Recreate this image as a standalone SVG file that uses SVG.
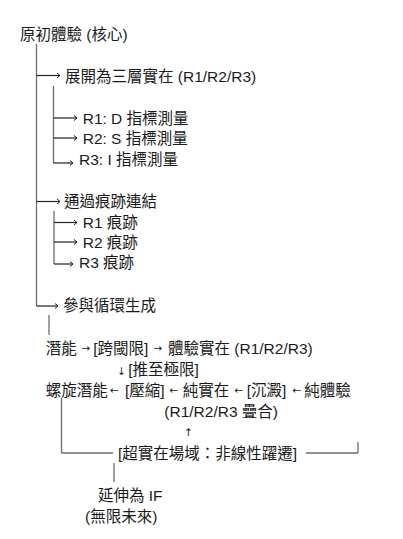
<svg xmlns="http://www.w3.org/2000/svg" width="403" height="539" viewBox="0 0 403 539">
<defs>
<style>
text{font-family:"Liberation Sans","Noto Sans CJK TC",sans-serif;font-size:15.5px;fill:#1a1a1a}
.ar{font-family:"DejaVu Sans",sans-serif;font-size:10.5px}
.v{stroke:#6e6e6e;stroke-width:1.3;fill:none}
.h{stroke:#222;stroke-width:1.2;fill:none}
</style>
<marker id="ah" markerWidth="8" markerHeight="8" refX="6" refY="4" orient="auto" markerUnits="userSpaceOnUse">
<path d="M3,1.5 L6,4 L3,6.5" fill="none" stroke="#222" stroke-width="1"/>
</marker>
</defs>
<rect width="403" height="539" fill="#fff"/>
<g id="connectors">
<path class="v" d="M36.5,44 V306"/>
<path class="h" d="M36.5,75.5 H60" marker-end="url(#ah)"/>
<path class="h" d="M36.5,201.5 H60" marker-end="url(#ah)"/>
<path class="h" d="M36.5,306 H58" marker-end="url(#ah)"/>
<path class="v" d="M53.5,86 V163"/>
<path class="h" d="M53.5,118 H77" marker-end="url(#ah)"/>
<path class="h" d="M53.5,138 H77" marker-end="url(#ah)"/>
<path class="h" d="M53.5,163 H73" marker-end="url(#ah)"/>
<path class="v" d="M54,211 V264"/>
<path class="h" d="M54,222.5 H77" marker-end="url(#ah)"/>
<path class="h" d="M54,242 H77" marker-end="url(#ah)"/>
<path class="h" d="M54,264 H73" marker-end="url(#ah)"/>
<path class="v" d="M49,315 V335"/>
<path class="v" d="M61.5,398 V453"/>
<path class="h" d="M61.5,453 H113"/>
<path class="h" d="M306,453 H358"/>
<path class="v" d="M358,442 V453"/>
<path class="v" d="M114,463 V482"/>
</g>
<g id="root"><text x="20" y="39.5">原初體驗 (核心)</text></g>
<g id="n1"><text x="65" y="81.5">展開為三層實在 (R1/R2/R3)</text></g>
<g id="n1a"><text x="82.7" y="123.5">R1: D 指標測量</text></g>
<g id="n1b"><text x="82.7" y="143.5">R2: S 指標測量</text></g>
<g id="n1c"><text x="79" y="164.5">R3: I 指標測量</text></g>
<g id="n2"><text x="64" y="207">通過痕跡連結</text></g>
<g id="n2a"><text x="82.7" y="227.5">R1 痕跡</text></g>
<g id="n2b"><text x="82.7" y="247.5">R2 痕跡</text></g>
<g id="n2c"><text x="79" y="268">R3 痕跡</text></g>
<g id="n3"><text x="63" y="310.5">參與循環生成</text></g>
<g id="cycle-top"><text y="353.5"><tspan x="45.7">潛能</tspan><tspan x="81.5" y="351.5" class="ar">→</tspan><tspan x="93.3" y="353.5">[跨閾限]</tspan><tspan x="153.5" y="351.5" class="ar">→</tspan><tspan x="168" y="353.5">體驗實在 (R1/R2/R3)</tspan></text></g>
<g id="push"><text y="374.5"><tspan x="117" class="ar">↓</tspan><tspan x="128.3">[推至極限]</tspan></text></g>
<g id="cycle-bottom"><text y="395.5"><tspan x="45.7">螺旋潛能</tspan><tspan x="110" y="393.5" class="ar">←</tspan><tspan x="125" y="395.5">[壓縮]</tspan><tspan x="169.5" y="393.5" class="ar">←</tspan><tspan x="182.7" y="395.5">純實在</tspan><tspan x="234.5" y="393.5" class="ar">←</tspan><tspan x="246.7" y="395.5">[沉澱]</tspan><tspan x="292.5" y="393.5" class="ar">←</tspan><tspan x="304.3" y="395.5">純體驗</tspan></text></g>
<g id="overlap"><text x="164.3" y="416.5">(R1/R2/R3 疊合)</text></g>
<g id="up"><text x="184" y="436" class="ar">↑</text></g>
<g id="field"><text x="118" y="458.5">[超實在場域：非線性躍遷]</text></g>
<g id="if"><text x="98" y="500.5">延伸為 IF</text><text x="85" y="521.5">(無限未來)</text></g>
</svg>
